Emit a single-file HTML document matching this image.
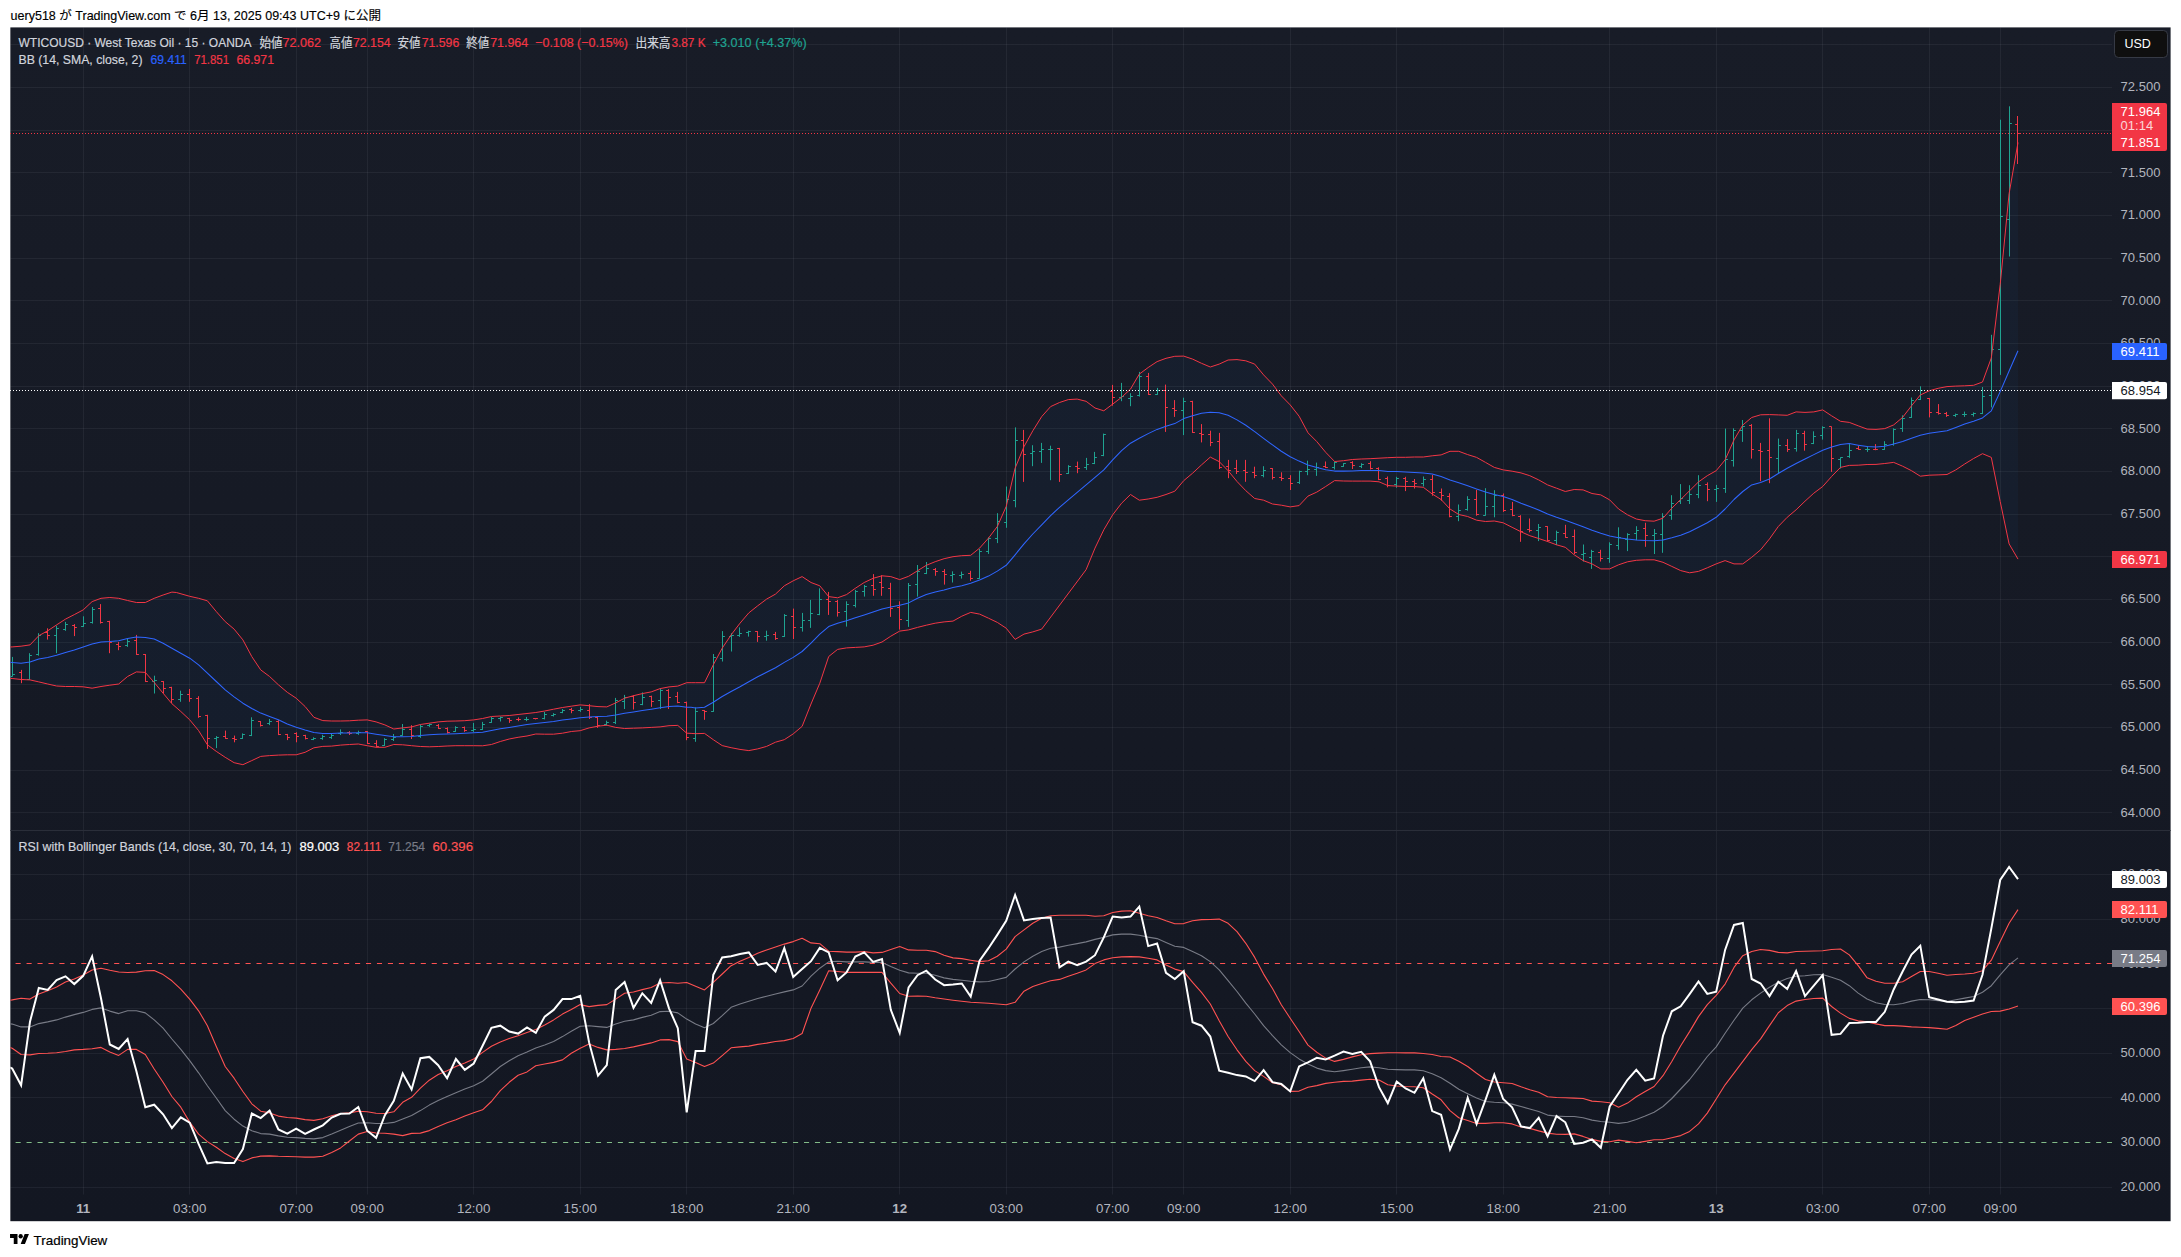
<!DOCTYPE html>
<html lang="ja"><head><meta charset="utf-8"><title>WTICOUSD chart</title>
<style>html,body{margin:0;padding:0;background:#fff}body{width:2181px;height:1257px;position:relative;overflow:hidden}</style></head>
<body>
<svg width="2181" height="1257" viewBox="0 0 2181 1257" style="position:absolute;left:0;top:0" font-family="Liberation Sans, Noto Sans CJK JP, sans-serif">
<defs><linearGradient id="bg" x1="0" y1="0" x2="0" y2="1"><stop offset="0" stop-color="#181c27"/><stop offset="1" stop-color="#131722"/></linearGradient>
<clipPath id="pm"><rect x="10.35" y="27.4" width="2101.65" height="802.9"/></clipPath>
<clipPath id="pr"><rect x="10.35" y="830.3" width="2101.65" height="361.70000000000005"/></clipPath></defs>
<rect x="10.35" y="27.4" width="2160.25" height="1193.8" fill="url(#bg)"/>
<path d="M83.5 27.4V1194.5 M189.5 27.4V1194.5 M296.5 27.4V1194.5 M367.5 27.4V1194.5 M473.5 27.4V1194.5 M580.5 27.4V1194.5 M686.5 27.4V1194.5 M793.5 27.4V1194.5 M899.5 27.4V1194.5 M1006.5 27.4V1194.5 M1112.5 27.4V1194.5 M1183.5 27.4V1194.5 M1290.5 27.4V1194.5 M1396.5 27.4V1194.5 M1503.5 27.4V1194.5 M1609.5 27.4V1194.5 M1716.5 27.4V1194.5 M1822.5 27.4V1194.5 M1929.5 27.4V1194.5 M2000.5 27.4V1194.5 M10.35 44.5H2112 M10.35 87.5H2112 M10.35 130.5H2112 M10.35 172.5H2112 M10.35 215.5H2112 M10.35 258.5H2112 M10.35 300.5H2112 M10.35 343.5H2112 M10.35 386.5H2112 M10.35 428.5H2112 M10.35 471.5H2112 M10.35 514.5H2112 M10.35 556.5H2112 M10.35 599.5H2112 M10.35 642.5H2112 M10.35 684.5H2112 M10.35 727.5H2112 M10.35 770.5H2112 M10.35 812.5H2112 M10.35 874.5H2112 M10.35 919.5H2112 M10.35 1008.5H2112 M10.35 1053.5H2112 M10.35 1097.5H2112 M10.35 1187.5H2112" fill="none" stroke="#f0f3fa" stroke-opacity="0.06" stroke-width="1"/>
<path d="M10.35 830.5H2170.6" stroke="#2a2e39" stroke-width="1" fill="none"/>
<g clip-path="url(#pm)">
<polygon points="10.0,647.0 12.2,646.9 21.1,646.2 30.0,644.9 38.8,635.7 47.7,630.8 56.6,624.9 65.5,619.1 74.3,614.6 83.2,609.9 92.1,601.6 101.0,598.3 109.8,597.5 118.7,598.3 127.6,600.5 136.4,602.5 145.3,602.5 154.2,598.3 163.1,595.0 171.9,592.1 176.4,592.5 189.7,596.3 198.6,598.3 207.4,600.8 216.3,611.6 225.2,621.6 234.1,629.1 242.9,639.9 251.8,656.6 260.7,669.9 269.6,676.5 278.4,684.8 287.3,692.3 296.2,698.2 305.1,706.5 313.9,717.3 322.8,720.6 331.7,721.0 340.6,721.0 349.4,720.8 358.3,720.2 367.2,719.9 376.1,721.9 384.9,724.9 393.8,729.0 402.7,727.9 411.6,726.9 420.4,724.5 429.3,723.2 438.2,721.9 447.1,721.2 455.9,721.0 464.8,720.7 473.7,719.9 482.6,718.5 491.4,716.5 500.3,716.0 509.2,715.5 518.1,714.5 527.0,713.5 535.8,712.5 544.7,711.0 553.6,709.2 562.5,707.5 571.3,706.2 580.2,704.9 589.1,705.7 598.0,706.6 606.8,706.9 615.7,702.9 624.6,698.2 633.5,695.7 642.3,693.6 651.2,691.9 660.1,688.6 669.0,686.9 677.8,686.1 686.7,682.7 691.1,682.7 695.6,682.7 704.5,682.7 713.3,664.8 722.2,648.2 731.1,634.9 740.0,623.2 748.8,612.9 757.7,605.8 766.6,599.1 775.5,594.1 784.3,585.8 793.2,580.8 802.1,576.6 811.0,582.5 819.8,585.8 828.7,596.6 837.6,597.8 846.5,594.6 855.3,588.3 864.2,582.5 873.1,578.3 882.0,575.8 890.8,576.6 899.7,579.6 908.6,576.3 917.5,570.8 926.3,565.3 935.2,561.7 944.1,558.7 953.0,556.7 961.8,555.7 970.7,555.3 979.6,548.1 988.5,538.1 997.3,526.5 1006.2,506.5 1015.1,468.2 1024.0,446.6 1032.8,430.8 1041.7,416.6 1050.6,406.6 1059.5,402.5 1068.3,399.6 1077.2,399.1 1086.1,401.3 1095.0,408.0 1103.8,410.8 1112.7,404.1 1121.6,397.3 1130.5,389.1 1139.3,374.1 1148.2,367.5 1157.1,361.6 1166.0,358.3 1174.8,356.3 1183.7,356.1 1192.6,359.1 1201.5,363.3 1210.3,367.0 1219.2,364.1 1228.1,360.0 1237.0,359.6 1245.8,360.8 1254.7,364.1 1263.6,374.9 1272.5,384.1 1281.3,395.8 1290.2,404.9 1299.1,416.2 1308.0,432.8 1316.8,441.6 1325.7,452.3 1334.6,461.5 1343.5,460.7 1352.3,459.5 1361.2,459.0 1370.1,458.7 1379.0,458.2 1387.8,457.7 1396.7,457.3 1405.6,457.3 1414.5,457.0 1423.3,457.0 1432.2,455.8 1441.1,454.9 1450.0,451.3 1458.8,451.3 1467.7,454.6 1476.6,457.4 1485.5,462.4 1494.3,467.4 1503.2,469.9 1512.1,471.2 1521.0,472.9 1529.8,475.7 1538.7,479.9 1547.6,484.9 1556.5,488.2 1565.3,491.5 1574.2,489.5 1583.1,489.9 1592.0,493.5 1600.8,494.9 1609.7,499.9 1618.6,509.0 1627.5,514.8 1636.3,519.0 1645.2,520.7 1654.1,521.2 1663.0,518.2 1671.8,508.2 1680.7,499.5 1689.6,490.7 1698.5,481.9 1707.3,475.7 1716.2,470.7 1725.1,459.9 1734.0,439.9 1742.8,425.0 1751.7,417.5 1760.6,414.8 1769.5,414.6 1778.3,414.9 1787.2,415.3 1796.1,411.9 1805.0,412.4 1813.8,411.9 1822.7,409.9 1831.6,415.8 1840.5,421.3 1849.3,422.4 1858.2,425.8 1867.1,429.1 1876.0,429.4 1884.8,428.6 1893.7,424.9 1902.6,417.4 1911.5,405.8 1920.3,395.0 1929.2,390.8 1938.1,388.3 1947.0,386.6 1955.8,386.1 1964.7,385.8 1973.6,385.3 1982.5,382.0 1991.3,358.0 2000.2,284.5 2009.1,193.6 2018.0,142.5 2018.0,559.1 2009.1,543.9 2000.2,501.5 1991.3,457.4 1982.5,453.7 1973.6,458.5 1964.7,464.0 1955.8,469.9 1947.0,474.5 1938.1,474.9 1929.2,475.2 1920.3,476.2 1911.5,470.7 1902.6,466.2 1893.7,462.4 1884.8,463.5 1876.0,464.4 1867.1,464.5 1858.2,465.2 1849.3,465.4 1840.5,467.4 1831.6,476.5 1822.7,486.5 1813.8,493.2 1805.0,501.2 1796.1,509.8 1787.2,517.3 1778.3,526.5 1769.5,538.9 1760.6,549.8 1751.7,557.3 1742.8,563.9 1734.0,563.9 1725.1,560.6 1716.2,563.9 1707.3,567.8 1698.5,571.4 1689.6,572.8 1680.7,570.6 1671.8,566.4 1663.0,562.3 1654.1,559.8 1645.2,559.8 1636.3,560.3 1627.5,561.8 1618.6,564.8 1609.7,568.9 1600.8,568.9 1592.0,563.9 1583.1,560.6 1574.2,554.8 1565.3,547.3 1556.5,544.8 1547.6,541.5 1538.7,538.5 1529.8,535.7 1521.0,531.8 1512.1,527.3 1503.2,522.8 1494.3,521.0 1485.5,521.5 1476.6,520.2 1467.7,516.5 1458.8,514.5 1450.0,509.0 1441.1,499.5 1432.2,494.0 1423.3,487.3 1414.5,486.5 1405.6,486.5 1396.7,486.1 1387.8,485.6 1379.0,481.8 1370.1,481.1 1361.2,481.1 1352.3,481.1 1343.5,481.0 1334.6,480.6 1325.7,486.5 1316.8,492.1 1308.0,496.1 1299.1,505.6 1290.2,506.9 1281.3,505.2 1272.5,504.0 1263.6,500.2 1254.7,498.5 1245.8,490.7 1237.0,481.5 1228.1,470.7 1219.2,461.6 1210.3,457.1 1201.5,464.9 1192.6,473.2 1183.7,480.7 1174.8,491.2 1166.0,494.5 1157.1,497.3 1148.2,499.0 1139.3,500.2 1130.5,494.5 1121.6,503.2 1112.7,514.8 1103.8,529.8 1095.0,548.1 1086.1,569.7 1041.7,629.1 1032.8,631.9 1024.0,634.1 1015.1,639.4 1006.2,628.2 997.3,622.4 988.5,618.2 979.6,614.1 970.7,612.4 961.8,616.2 953.0,621.1 944.1,621.9 935.2,623.2 926.3,625.2 917.5,627.4 908.6,629.9 899.7,631.1 890.8,636.2 882.0,642.0 873.1,645.2 864.2,646.9 855.3,647.4 846.5,647.9 837.6,649.4 828.7,656.5 819.8,683.2 811.0,704.0 802.1,726.4 793.2,733.9 784.3,739.7 775.5,742.2 766.6,746.4 757.7,748.9 748.8,750.6 740.0,749.4 731.1,747.7 722.2,745.6 713.3,739.7 704.5,733.4 695.6,733.7 691.1,733.4 686.7,733.2 677.8,725.4 669.0,725.7 660.1,726.9 651.2,727.4 642.3,727.9 633.5,728.2 624.6,728.5 615.7,727.4 606.8,725.2 598.0,726.2 589.1,727.9 580.2,730.7 571.3,731.5 562.5,733.2 553.6,734.2 544.7,734.2 535.8,734.0 527.0,736.0 518.1,737.3 509.2,739.0 500.3,741.5 491.4,744.5 482.6,745.8 473.7,745.7 464.8,745.7 455.9,745.7 447.1,746.0 438.2,746.5 429.3,746.8 420.4,746.5 411.6,745.7 402.7,744.8 393.8,744.5 384.9,747.3 376.1,747.3 367.2,745.7 358.3,744.0 349.4,744.5 340.6,745.1 331.7,746.1 322.8,746.4 313.9,747.8 305.1,752.3 296.2,754.8 287.3,754.8 278.4,755.1 269.6,755.6 260.7,756.4 251.8,760.6 242.9,764.7 234.1,762.7 225.2,757.3 216.3,751.4 207.4,744.8 198.6,730.6 189.7,719.8 180.8,711.5 171.9,703.7 163.1,693.2 154.2,682.4 145.3,672.4 136.4,671.9 127.6,676.5 118.7,684.0 109.8,685.2 101.0,686.5 92.1,688.2 83.2,686.8 74.3,686.5 65.5,686.5 56.6,686.0 47.7,684.0 38.8,681.9 30.0,679.9 21.1,679.5 12.2,678.5 10.0,678.4" fill="#2196f3" fill-opacity="0.045"/>
<path d="M12.5 656.9V676.5M10.1 676.5H12.5M12.5 674.5H14.9M29.5 653.2V679.9M27.1 679.5H29.5M29.5 655.5H31.9M38.5 633.2V655.7M36.1 654.5H38.5M38.5 635.5H40.9M56.5 625.8V653.2M54.1 635.5H56.5M56.5 628.5H58.9M65.5 621.9V630.8M63.1 629.5H65.5M65.5 624.5H67.9M83.5 616.3V626.9M81.1 626.5H83.5M83.5 623.5H85.9M92.5 607.0V623.6M90.1 622.5H92.5M92.5 609.5H94.9M127.5 638.6V646.9M125.1 645.5H127.5M127.5 641.5H129.9M154.5 675.7V693.5M152.1 681.5H154.5M154.5 680.5H156.9M180.5 690.7V701.8M178.1 699.5H180.5M180.5 694.5H182.9M216.5 736.1V748.1M214.1 738.5H216.5M216.5 737.5H218.9M242.5 733.4V738.9M240.1 738.5H242.5M242.5 734.5H244.9M251.5 717.3V736.1M249.1 735.5H251.5M251.5 720.5H253.9M269.5 719.0V725.1M267.1 723.5H269.5M269.5 721.5H271.9M313.5 737.3V740.1M311.1 739.5H313.5M313.5 738.5H315.9M322.5 734.8V739.8M320.1 738.5H322.5M322.5 736.5H324.9M331.5 733.9V738.9M329.1 737.5H331.5M331.5 735.5H333.9M340.5 729.4V735.0M338.1 733.5H340.5M340.5 732.5H342.9M358.5 730.7V734.8M356.1 733.5H358.5M358.5 732.5H360.9M384.5 738.2V746.0M382.1 745.5H384.5M384.5 739.5H386.9M393.5 734.0V741.0M391.1 739.5H393.5M393.5 737.5H395.9M402.5 724.0V735.7M400.1 735.5H402.5M402.5 729.5H404.9M420.5 724.5V737.8M418.1 736.5H420.5M420.5 726.5H422.9M429.5 723.5V726.9M427.1 725.5H429.5M429.5 724.5H431.9M455.5 726.2V731.9M453.1 731.5H455.5M455.5 727.5H457.9M473.5 722.9V731.9M471.1 730.5H473.5M473.5 729.5H475.9M482.5 721.9V729.9M480.1 729.5H482.5M482.5 724.5H484.9M491.5 716.9V722.9M489.1 722.5H491.5M491.5 718.5H493.9M500.5 716.5V721.5M498.1 718.5H500.5M500.5 717.5H502.9M526.5 716.9V721.2M524.1 719.5H526.5M526.5 719.5H528.9M544.5 711.9V719.4M542.1 718.5H544.5M544.5 714.5H546.9M553.5 713.2V716.5M551.1 715.5H553.5M553.5 714.5H555.9M562.5 709.0V713.2M560.1 712.5H562.5M562.5 710.5H564.9M580.5 706.9V711.9M578.1 710.5H580.5M580.5 709.5H582.9M606.5 720.7V725.7M604.1 724.5H606.5M606.5 722.5H608.9M615.5 697.9V724.0M613.1 722.5H615.5M615.5 700.5H617.9M624.5 694.9V709.0M622.1 701.5H624.5M624.5 697.5H626.9M642.5 692.4V705.2M640.1 704.5H642.5M642.5 697.5H644.9M660.5 688.6V709.0M658.1 700.5H660.5M660.5 690.5H662.9M695.5 707.4V741.8M693.1 738.5H695.5M695.5 711.5H697.9M713.5 654.0V711.8M711.1 711.5H713.5M713.5 657.5H715.9M722.5 631.1V661.5M720.1 658.5H722.5M722.5 636.5H724.9M731.5 633.2V651.5M729.1 636.5H731.5M731.5 635.5H733.9M739.5 627.4V636.9M737.1 635.5H739.5M739.5 633.5H741.9M748.5 630.7V636.6M746.1 632.5H748.5M748.5 631.5H750.9M766.5 630.7V640.7M764.1 636.5H766.5M766.5 635.5H768.9M784.5 614.1V636.9M782.1 636.5H784.5M784.5 615.5H786.9M802.5 612.9V631.6M800.1 627.5H802.5M802.5 620.5H804.9M810.5 599.9V627.9M808.1 620.5H810.5M810.5 613.5H812.9M819.5 588.3V615.2M817.1 614.5H819.5M819.5 599.5H821.9M846.5 601.3V626.6M844.1 611.5H846.5M846.5 604.5H848.9M855.5 589.9V607.4M853.1 605.5H855.5M855.5 591.5H857.9M864.5 585.0V596.6M862.1 591.5H864.5M864.5 586.5H866.9M908.5 583.0V626.9M906.1 620.5H908.5M908.5 585.5H910.9M917.5 565.0V596.6M915.1 584.5H917.5M917.5 571.5H919.9M926.5 562.0V574.1M924.1 573.5H926.5M926.5 568.5H928.9M952.5 571.3V582.5M950.1 575.5H952.5M952.5 574.5H954.9M961.5 571.6V578.6M959.1 575.5H961.5M961.5 574.5H963.9M979.5 548.9V578.9M977.1 578.5H979.5M979.5 551.5H981.9M988.5 537.3V553.9M986.1 551.5H988.5M988.5 538.5H990.9M997.5 513.2V543.1M995.1 538.5H997.5M997.5 521.5H999.9M1006.5 486.5V527.8M1004.1 522.5H1006.5M1006.5 499.5H1008.9M1015.5 427.4V507.3M1013.1 500.5H1015.5M1015.5 440.5H1017.9M1032.5 445.2V466.2M1030.1 453.5H1032.5M1032.5 451.5H1034.9M1041.5 442.9V462.9M1039.1 451.5H1041.5M1041.5 449.5H1043.9M1050.5 445.7V480.2M1048.1 449.5H1050.5M1050.5 449.5H1052.9M1068.5 465.2V474.0M1066.1 473.5H1068.5M1068.5 466.5H1070.9M1086.5 457.9V469.9M1084.1 467.5H1086.5M1086.5 464.5H1088.9M1094.5 451.9V464.1M1092.1 463.5H1094.5M1094.5 457.5H1096.9M1103.5 433.6V456.2M1101.1 455.5H1103.5M1103.5 434.5H1105.9M1183.5 397.7V435.1M1181.1 410.5H1183.5M1183.5 401.5H1185.9M1263.5 466.2V477.3M1261.1 475.5H1263.5M1263.5 470.5H1265.9M1299.5 470.7V484.0M1297.1 482.5H1299.5M1299.5 471.5H1301.9M1307.5 460.7V475.2M1305.1 471.5H1307.5M1307.5 469.5H1309.9M1316.5 462.6V475.9M1314.1 469.5H1316.5M1316.5 467.5H1318.9M1121.5 382.9V401.2M1119.1 397.5H1121.5M1121.5 396.5H1123.9M1130.5 393.2V406.2M1128.1 398.5H1130.5M1130.5 396.5H1132.9M1139.5 371.9V396.6M1137.1 395.5H1139.5M1139.5 376.5H1141.9M1157.5 387.9V394.9M1155.1 394.5H1157.5M1157.5 390.5H1159.9M1334.5 461.5V469.5M1332.1 467.5H1334.5M1334.5 462.5H1336.9M1343.5 463.2V466.8M1341.1 466.5H1343.5M1343.5 463.5H1345.9M1361.5 463.2V468.1M1359.1 466.5H1361.5M1361.5 464.5H1363.9M1396.5 476.8V487.8M1394.1 484.5H1396.5M1396.5 478.5H1398.9M1423.5 476.5V486.5M1421.1 483.5H1423.5M1423.5 479.5H1425.9M1458.5 504.5V521.2M1456.1 516.5H1458.5M1458.5 510.5H1460.9M1467.5 496.2V510.7M1465.1 509.5H1467.5M1467.5 499.5H1469.9M1485.5 488.2V515.7M1483.1 515.5H1485.5M1485.5 506.5H1487.9M1494.5 490.2V517.3M1492.1 506.5H1494.5M1494.5 495.5H1496.9M1538.5 524.0V541.1M1536.1 530.5H1538.5M1538.5 527.5H1540.9M1556.5 530.7V545.1M1554.1 540.5H1556.5M1556.5 532.5H1558.9M1583.5 544.5V561.5M1581.1 554.5H1583.5M1583.5 553.5H1585.9M1591.5 549.8V568.9M1589.1 557.5H1591.5M1591.5 551.5H1593.9M1609.5 542.3V562.8M1607.1 558.5H1609.5M1609.5 544.5H1611.9M1618.5 527.3V549.8M1616.1 545.5H1618.5M1618.5 537.5H1620.9M1627.5 533.2V551.1M1625.1 539.5H1627.5M1627.5 534.5H1629.9M1636.5 526.2V540.1M1634.1 533.5H1636.5M1636.5 530.5H1638.9M1654.5 529.0V554.0M1652.1 535.5H1654.5M1654.5 533.5H1656.9M1662.5 513.2V552.8M1660.1 534.5H1662.5M1662.5 516.5H1664.9M1671.5 495.2V519.8M1669.1 515.5H1671.5M1671.5 503.5H1673.9M1680.5 484.1V504.0M1678.1 501.5H1680.5M1680.5 498.5H1682.9M1689.5 485.2V504.0M1687.1 500.5H1689.5M1689.5 494.5H1691.9M1698.5 475.2V498.2M1696.1 494.5H1698.5M1698.5 485.5H1700.9M1716.5 484.9V501.9M1714.1 489.5H1716.5M1716.5 488.5H1718.9M1725.5 428.6V492.9M1723.1 488.5H1725.5M1725.5 459.5H1727.9M1733.5 428.3V466.6M1731.1 460.5H1733.5M1733.5 430.5H1735.9M1742.5 420.0V441.9M1740.1 430.5H1742.5M1742.5 426.5H1744.9M1778.5 438.6V473.2M1776.1 458.5H1778.5M1778.5 445.5H1780.9M1796.5 429.9V451.6M1794.1 448.5H1796.5M1796.5 433.5H1798.9M1813.5 431.3V444.1M1811.1 443.5H1813.5M1813.5 436.5H1815.9M1822.5 426.3V439.6M1820.1 435.5H1822.5M1822.5 427.5H1824.9M1840.5 457.4V468.5M1838.1 459.5H1840.5M1840.5 457.5H1842.9M1849.5 444.1V457.9M1847.1 456.5H1849.5M1849.5 450.5H1851.9M1867.5 446.2V451.9M1865.1 449.5H1867.5M1867.5 449.5H1869.9M1884.5 441.2V449.9M1882.1 449.5H1884.5M1884.5 444.5H1886.9M1893.5 428.3V445.7M1891.1 444.5H1893.5M1893.5 429.5H1895.9M1902.5 415.3V431.9M1900.1 428.5H1902.5M1902.5 418.5H1904.9M1911.5 397.5V417.9M1909.1 417.5H1911.5M1911.5 400.5H1913.9M1920.5 386.3V400.0M1918.1 399.5H1920.5M1920.5 390.5H1922.9M1955.5 413.6V416.9M1953.1 415.5H1955.5M1955.5 414.5H1957.9M1964.5 411.6V416.9M1962.1 414.5H1964.5M1964.5 414.5H1966.9M1973.5 412.4V416.6M1971.1 414.5H1973.5M1973.5 413.5H1975.9M1982.5 387.0V414.1M1980.1 413.5H1982.5M1982.5 396.5H1984.9M1991.5 334.8V407.4M1989.1 395.5H1991.5M1991.5 349.5H1993.9M2000.5 119.7V374.9M1998.1 349.5H2000.5M2000.5 216.5H2002.9M2009.5 106.3V256.5M2007.1 219.5H2009.5M2009.5 123.5H2011.9" stroke="#1fa391" stroke-width="1" fill="none"/>
<path d="M21.5 669.9V683.2M19.1 672.5H21.5M21.5 679.5H23.9M47.5 628.3V639.6M45.1 632.5H47.5M47.5 635.5H49.9M74.5 624.1V636.1M72.1 625.5H74.5M74.5 627.5H76.9M100.5 604.1V623.6M98.1 608.5H100.5M100.5 622.5H102.9M109.5 620.8V653.2M107.1 621.5H109.5M109.5 642.5H111.9M118.5 641.9V650.2M116.1 644.5H118.5M118.5 646.5H120.9M136.5 634.9V654.9M134.1 640.5H136.5M136.5 654.5H138.9M145.5 654.1V681.9M143.1 654.5H145.5M145.5 681.5H147.9M163.5 681.2V693.5M161.1 681.5H163.5M163.5 688.5H165.9M171.5 686.8V703.2M169.1 687.5H171.5M171.5 699.5H173.9M189.5 689.0V701.8M187.1 694.5H189.5M189.5 698.5H191.9M198.5 696.2V717.8M196.1 698.5H198.5M198.5 716.5H200.9M207.5 714.8V748.9M205.1 715.5H207.5M207.5 738.5H209.9M225.5 730.6V738.9M223.1 736.5H225.5M225.5 738.5H227.9M234.5 735.6V742.3M232.1 738.5H234.5M234.5 739.5H236.9M260.5 721.1V726.5M258.1 721.5H260.5M260.5 725.5H262.9M278.5 720.1V735.1M276.1 721.5H278.5M278.5 734.5H280.9M287.5 733.9V740.1M285.1 734.5H287.5M287.5 737.5H289.9M296.5 732.3V742.3M294.1 733.5H296.5M296.5 736.5H298.9M305.5 734.8V739.4M303.1 735.5H305.5M305.5 738.5H307.9M349.5 731.2V735.0M347.1 732.5H349.5M349.5 733.5H351.9M367.5 731.2V744.0M365.1 731.5H367.5M367.5 743.5H369.9M376.5 740.2V747.3M374.1 743.5H376.5M376.5 746.5H378.9M411.5 725.2V739.0M409.1 729.5H411.5M411.5 735.5H413.9M438.5 724.0V729.0M436.1 725.5H438.5M438.5 728.5H440.9M447.5 727.4V733.5M445.1 728.5H447.5M447.5 732.5H449.9M464.5 726.5V731.9M462.1 727.5H464.5M464.5 730.5H466.9M509.5 717.9V722.9M507.1 718.5H509.5M509.5 720.5H511.9M518.5 717.4V721.2M516.1 719.5H518.5M518.5 719.5H520.9M535.5 718.2V719.4M533.1 718.5H535.5M535.5 718.5H537.9M571.5 707.9V713.2M569.1 709.5H571.5M571.5 710.5H573.9M589.5 704.1V719.0M587.1 710.5H589.5M589.5 717.5H591.9M597.5 716.5V727.9M595.1 717.5H597.5M597.5 725.5H599.9M633.5 695.2V709.5M631.1 696.5H633.5M633.5 702.5H635.9M651.5 695.7V706.9M649.1 696.5H651.5M651.5 701.5H653.9M668.5 689.1V709.0M666.1 690.5H668.5M668.5 697.5H670.9M677.5 691.9V703.2M675.1 696.5H677.5M677.5 702.5H679.9M686.5 701.6V740.2M684.1 702.5H686.5M686.5 737.5H688.9M704.5 710.1V719.8M702.1 710.5H704.5M704.5 711.5H706.9M757.5 631.1V641.9M755.1 631.5H757.5M757.5 636.5H759.9M775.5 631.9V639.9M773.1 634.5H775.5M775.5 638.5H777.9M793.5 608.6V639.0M791.1 616.5H793.5M793.5 627.5H795.9M828.5 591.9V614.9M826.1 599.5H828.5M828.5 601.5H830.9M837.5 599.9V616.6M835.1 601.5H837.5M837.5 612.5H839.9M873.5 574.1V595.8M871.1 585.5H873.5M873.5 589.5H875.9M881.5 575.3V595.8M879.1 582.5H881.5M881.5 587.5H883.9M890.5 582.8V616.9M888.1 588.5H890.5M890.5 608.5H892.9M899.5 601.3V629.6M897.1 607.5H899.5M899.5 619.5H901.9M935.5 568.0V575.8M933.1 569.5H935.5M935.5 571.5H937.9M944.5 569.1V584.6M942.1 571.5H944.5M944.5 574.5H946.9M970.5 570.8V580.8M968.1 573.5H970.5M970.5 578.5H972.9M1023.5 429.9V481.9M1021.1 440.5H1023.5M1023.5 454.5H1025.9M1059.5 447.9V481.9M1057.1 448.5H1059.5M1059.5 474.5H1061.9M1077.5 461.6V473.2M1075.1 466.5H1077.5M1077.5 468.5H1079.9M1165.5 384.6V431.9M1163.1 390.5H1165.5M1165.5 407.5H1167.9M1174.5 400.1V416.9M1172.1 408.5H1174.5M1174.5 410.5H1176.9M1192.5 400.8V432.9M1190.1 401.5H1192.5M1192.5 432.5H1194.9M1201.5 424.1V442.4M1199.1 433.5H1201.5M1201.5 434.5H1203.9M1210.5 430.7V446.2M1208.1 434.5H1210.5M1210.5 442.5H1212.9M1219.5 432.9V469.0M1217.1 441.5H1219.5M1219.5 467.5H1221.9M1228.5 459.9V478.2M1226.1 466.5H1228.5M1228.5 470.5H1230.9M1236.5 459.9V474.0M1234.1 468.5H1236.5M1236.5 471.5H1238.9M1245.5 459.9V481.8M1243.1 470.5H1245.5M1245.5 472.5H1247.9M1254.5 466.7V478.2M1252.1 472.5H1254.5M1254.5 475.5H1256.9M1272.5 468.2V479.5M1270.1 468.5H1272.5M1272.5 477.5H1274.9M1281.5 472.3V480.9M1279.1 477.5H1281.5M1281.5 478.5H1283.9M1290.5 475.2V490.0M1288.1 478.5H1290.5M1290.5 483.5H1292.9M1112.5 384.9V405.7M1110.1 391.5H1112.5M1112.5 397.5H1114.9M1148.5 372.9V394.9M1146.1 376.5H1148.5M1148.5 394.5H1150.9M1325.5 461.5V468.1M1323.1 466.5H1325.5M1325.5 467.5H1327.9M1352.5 461.2V469.0M1350.1 462.5H1352.5M1352.5 465.5H1354.9M1370.5 461.2V469.5M1368.1 463.5H1370.5M1370.5 468.5H1372.9M1378.5 467.3V480.1M1376.1 468.5H1378.5M1378.5 479.5H1380.9M1387.5 476.5V487.3M1385.1 478.5H1387.5M1387.5 485.5H1389.9M1405.5 476.8V491.1M1403.1 478.5H1405.5M1405.5 481.5H1407.9M1414.5 479.0V488.5M1412.1 481.5H1414.5M1414.5 483.5H1416.9M1432.5 474.9V495.7M1430.1 479.5H1432.5M1432.5 492.5H1434.9M1441.5 488.5V500.7M1439.1 492.5H1441.5M1441.5 495.5H1443.9M1449.5 493.2V517.3M1447.1 496.5H1449.5M1449.5 516.5H1451.9M1476.5 489.9V515.7M1474.1 499.5H1476.5M1476.5 514.5H1478.9M1503.5 493.5V511.9M1501.1 495.5H1503.5M1503.5 510.5H1505.9M1512.5 501.9V516.2M1510.1 509.5H1512.5M1512.5 515.5H1514.9M1520.5 515.2V541.8M1518.1 516.5H1520.5M1520.5 531.5H1522.9M1529.5 518.5V532.3M1527.1 529.5H1529.5M1529.5 530.5H1531.9M1547.5 526.2V541.8M1545.1 526.5H1547.5M1547.5 540.5H1549.9M1565.5 524.8V537.8M1563.1 533.5H1565.5M1565.5 537.5H1567.9M1574.5 529.5V554.0M1572.1 536.5H1574.5M1574.5 552.5H1576.9M1600.5 549.8V561.5M1598.1 552.5H1600.5M1600.5 558.5H1602.9M1645.5 522.8V546.8M1643.1 528.5H1645.5M1645.5 535.5H1647.9M1707.5 482.4V501.2M1705.1 484.5H1707.5M1707.5 489.5H1709.9M1751.5 424.1V458.6M1749.1 425.5H1751.5M1751.5 449.5H1753.9M1760.5 442.9V481.2M1758.1 450.5H1760.5M1760.5 451.5H1762.9M1769.5 418.3V483.2M1767.1 450.5H1769.5M1769.5 457.5H1771.9M1787.5 439.1V451.9M1785.1 445.5H1787.5M1787.5 449.5H1789.9M1804.5 430.8V450.7M1802.1 433.5H1804.5M1804.5 444.5H1806.9M1831.5 426.6V471.9M1829.1 426.5H1831.5M1831.5 458.5H1833.9M1858.5 445.7V449.9M1856.1 448.5H1858.5M1858.5 449.5H1860.9M1875.5 444.1V450.2M1873.1 449.5H1875.5M1875.5 449.5H1877.9M1929.5 398.0V417.4M1927.1 398.5H1929.5M1929.5 412.5H1931.9M1938.5 404.1V414.6M1936.1 412.5H1938.5M1938.5 413.5H1940.9M1946.5 411.9V416.9M1944.1 413.5H1946.5M1946.5 415.5H1948.9M2017.5 116.0V164.0M2015.1 124.5H2017.5M2017.5 133.5H2019.9" stroke="#f23645" stroke-width="1" fill="none"/>
<path d="M10.0 662.3 L12.2 662.4 L21.1 663.2 L30.0 661.9 L38.8 659.0 L47.7 657.4 L56.6 655.2 L65.5 652.4 L74.3 649.9 L83.2 646.9 L92.1 644.1 L101.0 641.9 L109.8 641.6 L118.7 640.7 L127.6 638.6 L136.4 637.1 L145.3 637.4 L154.2 639.1 L163.1 643.2 L171.9 648.2 L180.8 653.2 L189.7 658.2 L198.6 664.9 L207.4 673.2 L216.3 681.5 L225.2 689.8 L234.1 696.8 L242.9 703.2 L251.8 708.5 L260.7 713.1 L269.6 716.5 L278.4 719.8 L287.3 724.0 L296.2 727.3 L305.1 730.1 L313.9 732.6 L322.8 733.4 L331.7 733.4 L340.6 733.1 L349.4 733.0 L358.3 732.8 L367.2 732.8 L376.1 734.2 L384.9 735.5 L393.8 736.8 L402.7 736.7 L411.6 736.5 L420.4 735.5 L429.3 734.8 L438.2 734.3 L447.1 734.0 L455.9 733.7 L464.8 733.3 L473.7 732.8 L482.6 732.2 L491.4 730.4 L500.3 728.7 L509.2 727.4 L518.1 725.9 L527.0 724.5 L535.8 723.5 L544.7 722.5 L553.6 721.4 L562.5 720.0 L571.3 718.9 L580.2 717.7 L589.1 717.0 L598.0 716.5 L606.8 716.2 L615.7 714.9 L624.6 713.2 L633.5 711.9 L642.3 710.5 L651.2 709.2 L660.1 707.7 L669.0 706.4 L677.8 706.1 L686.7 707.2 L691.1 707.3 L695.6 707.9 L704.5 707.3 L713.3 702.3 L722.2 696.5 L731.1 691.5 L740.0 686.8 L748.8 681.8 L757.7 676.8 L766.6 672.3 L775.5 667.8 L784.3 662.4 L793.2 657.4 L802.1 651.5 L811.0 643.2 L819.8 634.1 L828.7 626.6 L837.6 623.2 L846.5 620.7 L855.3 617.7 L864.2 614.9 L873.1 611.9 L882.0 609.1 L890.8 607.1 L899.7 605.3 L908.6 602.9 L917.5 598.3 L926.3 594.6 L935.2 591.9 L944.1 589.9 L953.0 587.5 L961.8 585.8 L970.7 583.2 L979.6 580.0 L988.5 576.1 L997.3 571.1 L1006.2 565.3 L1015.1 554.8 L1024.0 543.9 L1032.8 534.0 L1041.7 524.8 L1050.6 515.7 L1059.5 507.3 L1068.3 499.8 L1077.2 492.4 L1086.1 484.9 L1095.0 477.4 L1103.8 469.9 L1112.7 459.9 L1121.6 450.7 L1130.5 443.2 L1139.3 438.3 L1148.2 433.6 L1157.1 429.4 L1166.0 426.3 L1174.8 423.6 L1183.7 418.6 L1192.6 415.8 L1201.5 413.3 L1210.3 412.3 L1219.2 412.8 L1228.1 415.3 L1237.0 419.9 L1245.8 425.3 L1254.7 431.6 L1263.6 438.3 L1272.5 444.9 L1281.3 451.2 L1290.2 456.7 L1299.1 461.1 L1308.0 465.0 L1316.8 467.6 L1325.7 469.8 L1334.6 471.1 L1343.5 471.1 L1352.3 471.0 L1361.2 470.6 L1370.1 470.5 L1379.0 470.6 L1387.8 471.5 L1396.7 471.6 L1405.6 472.0 L1414.5 472.5 L1423.3 472.9 L1432.2 474.1 L1441.1 476.6 L1450.0 479.9 L1458.8 482.7 L1467.7 485.7 L1476.6 489.0 L1485.5 492.0 L1494.3 494.5 L1503.2 496.5 L1512.1 499.4 L1521.0 503.2 L1529.8 506.5 L1538.7 509.9 L1547.6 514.0 L1556.5 517.3 L1565.3 520.3 L1574.2 523.5 L1583.1 526.8 L1592.0 530.2 L1600.8 533.2 L1609.7 536.0 L1618.6 537.8 L1627.5 539.1 L1636.3 540.1 L1645.2 540.6 L1654.1 540.8 L1663.0 540.1 L1671.8 537.8 L1680.7 535.2 L1689.6 531.8 L1698.5 527.3 L1707.3 522.8 L1716.2 517.3 L1725.1 509.0 L1734.0 499.5 L1742.8 491.5 L1751.7 484.9 L1760.6 482.4 L1769.5 479.0 L1778.3 473.5 L1787.2 468.2 L1796.1 463.5 L1805.0 459.0 L1813.8 454.6 L1822.7 450.2 L1831.6 446.9 L1840.5 444.4 L1849.3 443.6 L1858.2 445.2 L1867.1 446.6 L1876.0 446.9 L1884.8 446.2 L1893.7 444.1 L1902.6 441.6 L1911.5 438.2 L1920.3 435.2 L1929.2 433.2 L1938.1 431.9 L1947.0 430.8 L1955.8 427.4 L1964.7 424.1 L1973.6 421.3 L1982.5 417.9 L1991.3 410.8 L2000.2 391.6 L2009.1 371.0 L2018.0 350.7" stroke="#2f66ff" stroke-width="1.05" fill="none" stroke-linejoin="round"/>
<path d="M10.0 647.0 L12.2 646.9 L21.1 646.2 L30.0 644.9 L38.8 635.7 L47.7 630.8 L56.6 624.9 L65.5 619.1 L74.3 614.6 L83.2 609.9 L92.1 601.6 L101.0 598.3 L109.8 597.5 L118.7 598.3 L127.6 600.5 L136.4 602.5 L145.3 602.5 L154.2 598.3 L163.1 595.0 L171.9 592.1 L176.4 592.5 L189.7 596.3 L198.6 598.3 L207.4 600.8 L216.3 611.6 L225.2 621.6 L234.1 629.1 L242.9 639.9 L251.8 656.6 L260.7 669.9 L269.6 676.5 L278.4 684.8 L287.3 692.3 L296.2 698.2 L305.1 706.5 L313.9 717.3 L322.8 720.6 L331.7 721.0 L340.6 721.0 L349.4 720.8 L358.3 720.2 L367.2 719.9 L376.1 721.9 L384.9 724.9 L393.8 729.0 L402.7 727.9 L411.6 726.9 L420.4 724.5 L429.3 723.2 L438.2 721.9 L447.1 721.2 L455.9 721.0 L464.8 720.7 L473.7 719.9 L482.6 718.5 L491.4 716.5 L500.3 716.0 L509.2 715.5 L518.1 714.5 L527.0 713.5 L535.8 712.5 L544.7 711.0 L553.6 709.2 L562.5 707.5 L571.3 706.2 L580.2 704.9 L589.1 705.7 L598.0 706.6 L606.8 706.9 L615.7 702.9 L624.6 698.2 L633.5 695.7 L642.3 693.6 L651.2 691.9 L660.1 688.6 L669.0 686.9 L677.8 686.1 L686.7 682.7 L691.1 682.7 L695.6 682.7 L704.5 682.7 L713.3 664.8 L722.2 648.2 L731.1 634.9 L740.0 623.2 L748.8 612.9 L757.7 605.8 L766.6 599.1 L775.5 594.1 L784.3 585.8 L793.2 580.8 L802.1 576.6 L811.0 582.5 L819.8 585.8 L828.7 596.6 L837.6 597.8 L846.5 594.6 L855.3 588.3 L864.2 582.5 L873.1 578.3 L882.0 575.8 L890.8 576.6 L899.7 579.6 L908.6 576.3 L917.5 570.8 L926.3 565.3 L935.2 561.7 L944.1 558.7 L953.0 556.7 L961.8 555.7 L970.7 555.3 L979.6 548.1 L988.5 538.1 L997.3 526.5 L1006.2 506.5 L1015.1 468.2 L1024.0 446.6 L1032.8 430.8 L1041.7 416.6 L1050.6 406.6 L1059.5 402.5 L1068.3 399.6 L1077.2 399.1 L1086.1 401.3 L1095.0 408.0 L1103.8 410.8 L1112.7 404.1 L1121.6 397.3 L1130.5 389.1 L1139.3 374.1 L1148.2 367.5 L1157.1 361.6 L1166.0 358.3 L1174.8 356.3 L1183.7 356.1 L1192.6 359.1 L1201.5 363.3 L1210.3 367.0 L1219.2 364.1 L1228.1 360.0 L1237.0 359.6 L1245.8 360.8 L1254.7 364.1 L1263.6 374.9 L1272.5 384.1 L1281.3 395.8 L1290.2 404.9 L1299.1 416.2 L1308.0 432.8 L1316.8 441.6 L1325.7 452.3 L1334.6 461.5 L1343.5 460.7 L1352.3 459.5 L1361.2 459.0 L1370.1 458.7 L1379.0 458.2 L1387.8 457.7 L1396.7 457.3 L1405.6 457.3 L1414.5 457.0 L1423.3 457.0 L1432.2 455.8 L1441.1 454.9 L1450.0 451.3 L1458.8 451.3 L1467.7 454.6 L1476.6 457.4 L1485.5 462.4 L1494.3 467.4 L1503.2 469.9 L1512.1 471.2 L1521.0 472.9 L1529.8 475.7 L1538.7 479.9 L1547.6 484.9 L1556.5 488.2 L1565.3 491.5 L1574.2 489.5 L1583.1 489.9 L1592.0 493.5 L1600.8 494.9 L1609.7 499.9 L1618.6 509.0 L1627.5 514.8 L1636.3 519.0 L1645.2 520.7 L1654.1 521.2 L1663.0 518.2 L1671.8 508.2 L1680.7 499.5 L1689.6 490.7 L1698.5 481.9 L1707.3 475.7 L1716.2 470.7 L1725.1 459.9 L1734.0 439.9 L1742.8 425.0 L1751.7 417.5 L1760.6 414.8 L1769.5 414.6 L1778.3 414.9 L1787.2 415.3 L1796.1 411.9 L1805.0 412.4 L1813.8 411.9 L1822.7 409.9 L1831.6 415.8 L1840.5 421.3 L1849.3 422.4 L1858.2 425.8 L1867.1 429.1 L1876.0 429.4 L1884.8 428.6 L1893.7 424.9 L1902.6 417.4 L1911.5 405.8 L1920.3 395.0 L1929.2 390.8 L1938.1 388.3 L1947.0 386.6 L1955.8 386.1 L1964.7 385.8 L1973.6 385.3 L1982.5 382.0 L1991.3 358.0 L2000.2 284.5 L2009.1 193.6 L2018.0 142.5" stroke="#f23645" stroke-width="1.0" fill="none" stroke-linejoin="round"/>
<path d="M10.0 678.4 L12.2 678.5 L21.1 679.5 L30.0 679.9 L38.8 681.9 L47.7 684.0 L56.6 686.0 L65.5 686.5 L74.3 686.5 L83.2 686.8 L92.1 688.2 L101.0 686.5 L109.8 685.2 L118.7 684.0 L127.6 676.5 L136.4 671.9 L145.3 672.4 L154.2 682.4 L163.1 693.2 L171.9 703.7 L180.8 711.5 L189.7 719.8 L198.6 730.6 L207.4 744.8 L216.3 751.4 L225.2 757.3 L234.1 762.7 L242.9 764.7 L251.8 760.6 L260.7 756.4 L269.6 755.6 L278.4 755.1 L287.3 754.8 L296.2 754.8 L305.1 752.3 L313.9 747.8 L322.8 746.4 L331.7 746.1 L340.6 745.1 L349.4 744.5 L358.3 744.0 L367.2 745.7 L376.1 747.3 L384.9 747.3 L393.8 744.5 L402.7 744.8 L411.6 745.7 L420.4 746.5 L429.3 746.8 L438.2 746.5 L447.1 746.0 L455.9 745.7 L464.8 745.7 L473.7 745.7 L482.6 745.8 L491.4 744.5 L500.3 741.5 L509.2 739.0 L518.1 737.3 L527.0 736.0 L535.8 734.0 L544.7 734.2 L553.6 734.2 L562.5 733.2 L571.3 731.5 L580.2 730.7 L589.1 727.9 L598.0 726.2 L606.8 725.2 L615.7 727.4 L624.6 728.5 L633.5 728.2 L642.3 727.9 L651.2 727.4 L660.1 726.9 L669.0 725.7 L677.8 725.4 L686.7 733.2 L691.1 733.4 L695.6 733.7 L704.5 733.4 L713.3 739.7 L722.2 745.6 L731.1 747.7 L740.0 749.4 L748.8 750.6 L757.7 748.9 L766.6 746.4 L775.5 742.2 L784.3 739.7 L793.2 733.9 L802.1 726.4 L811.0 704.0 L819.8 683.2 L828.7 656.5 L837.6 649.4 L846.5 647.9 L855.3 647.4 L864.2 646.9 L873.1 645.2 L882.0 642.0 L890.8 636.2 L899.7 631.1 L908.6 629.9 L917.5 627.4 L926.3 625.2 L935.2 623.2 L944.1 621.9 L953.0 621.1 L961.8 616.2 L970.7 612.4 L979.6 614.1 L988.5 618.2 L997.3 622.4 L1006.2 628.2 L1015.1 639.4 L1024.0 634.1 L1032.8 631.9 L1041.7 629.1 L1086.1 569.7 L1095.0 548.1 L1103.8 529.8 L1112.7 514.8 L1121.6 503.2 L1130.5 494.5 L1139.3 500.2 L1148.2 499.0 L1157.1 497.3 L1166.0 494.5 L1174.8 491.2 L1183.7 480.7 L1192.6 473.2 L1201.5 464.9 L1210.3 457.1 L1219.2 461.6 L1228.1 470.7 L1237.0 481.5 L1245.8 490.7 L1254.7 498.5 L1263.6 500.2 L1272.5 504.0 L1281.3 505.2 L1290.2 506.9 L1299.1 505.6 L1308.0 496.1 L1316.8 492.1 L1325.7 486.5 L1334.6 480.6 L1343.5 481.0 L1352.3 481.1 L1361.2 481.1 L1370.1 481.1 L1379.0 481.8 L1387.8 485.6 L1396.7 486.1 L1405.6 486.5 L1414.5 486.5 L1423.3 487.3 L1432.2 494.0 L1441.1 499.5 L1450.0 509.0 L1458.8 514.5 L1467.7 516.5 L1476.6 520.2 L1485.5 521.5 L1494.3 521.0 L1503.2 522.8 L1512.1 527.3 L1521.0 531.8 L1529.8 535.7 L1538.7 538.5 L1547.6 541.5 L1556.5 544.8 L1565.3 547.3 L1574.2 554.8 L1583.1 560.6 L1592.0 563.9 L1600.8 568.9 L1609.7 568.9 L1618.6 564.8 L1627.5 561.8 L1636.3 560.3 L1645.2 559.8 L1654.1 559.8 L1663.0 562.3 L1671.8 566.4 L1680.7 570.6 L1689.6 572.8 L1698.5 571.4 L1707.3 567.8 L1716.2 563.9 L1725.1 560.6 L1734.0 563.9 L1742.8 563.9 L1751.7 557.3 L1760.6 549.8 L1769.5 538.9 L1778.3 526.5 L1787.2 517.3 L1796.1 509.8 L1805.0 501.2 L1813.8 493.2 L1822.7 486.5 L1831.6 476.5 L1840.5 467.4 L1849.3 465.4 L1858.2 465.2 L1867.1 464.5 L1876.0 464.4 L1884.8 463.5 L1893.7 462.4 L1902.6 466.2 L1911.5 470.7 L1920.3 476.2 L1929.2 475.2 L1938.1 474.9 L1947.0 474.5 L1955.8 469.9 L1964.7 464.0 L1973.6 458.5 L1982.5 453.7 L1991.3 457.4 L2000.2 501.5 L2009.1 543.9 L2018.0 559.1" stroke="#f23645" stroke-width="1.0" fill="none" stroke-linejoin="round"/>
</g>
<path d="M10 133.5H2112" stroke="#f23645" stroke-width="1" stroke-dasharray="1 2" fill="none"/>
<path d="M10 390.5H2112" stroke="#ffffff" stroke-width="1" stroke-dasharray="1 2" fill="none"/>
<g clip-path="url(#pr)">
<path d="M4.65 963.5H2112" stroke="#ff5252" stroke-width="1" stroke-dasharray="5.1 5.85" fill="none"/>
<path d="M4.65 1142.5H2112" stroke="#8fce93" stroke-opacity="0.9" stroke-width="1" stroke-dasharray="5.1 5.85" fill="none"/>
<path d="M10.0 1023.7 L12.2 1024.1 L21.1 1026.9 L30.0 1026.9 L38.8 1023.6 L47.7 1021.9 L56.6 1019.9 L65.5 1017.1 L74.3 1014.6 L83.2 1012.4 L92.1 1009.4 L101.0 1007.9 L109.8 1011.1 L118.7 1013.6 L127.6 1010.8 L136.4 1010.8 L145.3 1012.9 L154.2 1019.9 L163.1 1028.2 L171.9 1039.0 L180.8 1049.4 L189.7 1060.7 L198.6 1072.8 L207.4 1085.7 L216.3 1098.0 L225.2 1110.6 L234.1 1119.2 L242.9 1126.1 L251.8 1130.7 L260.7 1133.6 L269.6 1134.1 L278.4 1135.9 L287.3 1137.2 L296.2 1137.6 L305.1 1138.4 L313.9 1138.9 L322.8 1137.6 L331.7 1134.1 L340.6 1130.3 L349.4 1126.5 L358.3 1123.0 L367.2 1122.7 L376.1 1123.5 L384.9 1123.5 L393.8 1122.4 L402.7 1119.0 L411.6 1115.6 L420.4 1110.6 L429.3 1105.1 L438.2 1100.6 L447.1 1096.5 L455.9 1092.8 L464.8 1089.0 L473.7 1085.7 L482.6 1081.2 L491.4 1074.0 L500.3 1066.5 L509.2 1060.7 L518.1 1055.7 L527.0 1051.9 L535.8 1047.9 L544.7 1044.9 L553.6 1041.6 L562.5 1036.6 L571.3 1031.2 L580.2 1026.2 L589.1 1025.7 L598.0 1026.6 L606.8 1027.4 L615.7 1024.1 L624.6 1021.3 L633.5 1019.9 L642.3 1017.4 L651.2 1015.3 L660.1 1011.6 L669.0 1011.3 L677.8 1012.9 L686.7 1019.1 L695.6 1024.1 L704.5 1027.8 L713.3 1023.5 L722.2 1015.7 L731.1 1007.3 L740.0 1004.0 L748.8 1001.2 L757.7 998.5 L766.6 996.2 L775.5 994.0 L784.3 991.9 L793.2 989.9 L802.1 986.0 L811.0 976.2 L819.8 968.2 L828.7 961.9 L837.6 961.2 L846.5 961.9 L855.3 961.9 L864.2 961.9 L873.1 962.4 L882.0 962.4 L890.8 966.6 L899.7 970.2 L908.6 972.9 L917.5 973.2 L926.3 973.2 L935.2 975.2 L944.1 977.9 L953.0 979.4 L961.8 980.2 L970.7 981.2 L979.6 981.9 L988.5 981.5 L997.3 979.5 L1006.2 977.4 L1015.1 969.0 L1024.0 961.9 L1032.8 956.2 L1041.7 951.6 L1050.6 948.2 L1059.5 947.1 L1068.3 945.3 L1077.2 943.6 L1086.1 941.9 L1095.0 939.4 L1103.8 937.4 L1112.7 934.9 L1121.6 934.1 L1130.5 934.1 L1139.3 935.3 L1148.2 937.1 L1157.1 938.6 L1166.0 942.4 L1174.8 946.3 L1183.7 947.4 L1192.6 951.6 L1201.5 955.7 L1210.3 961.6 L1219.2 969.9 L1228.1 980.7 L1237.0 991.5 L1245.8 1003.2 L1254.7 1014.0 L1263.6 1025.7 L1272.5 1035.6 L1281.3 1044.8 L1290.2 1052.6 L1299.1 1058.9 L1308.0 1063.9 L1316.8 1068.1 L1325.7 1070.6 L1334.6 1071.8 L1343.5 1070.6 L1352.3 1069.3 L1361.2 1067.8 L1370.1 1066.9 L1379.0 1067.8 L1387.8 1069.3 L1396.7 1069.6 L1405.6 1069.9 L1414.5 1069.9 L1423.3 1070.7 L1432.2 1073.7 L1441.1 1077.7 L1450.0 1083.2 L1458.8 1089.3 L1467.7 1093.7 L1476.6 1098.1 L1485.5 1101.5 L1494.3 1102.3 L1503.2 1102.8 L1512.1 1104.1 L1521.0 1106.5 L1529.8 1109.0 L1538.7 1111.5 L1547.6 1115.1 L1556.5 1116.1 L1565.3 1116.5 L1574.2 1116.5 L1583.1 1117.8 L1592.0 1120.1 L1600.8 1121.5 L1609.7 1122.3 L1618.6 1123.4 L1627.5 1122.3 L1636.3 1119.5 L1645.2 1116.1 L1654.1 1112.3 L1663.0 1106.5 L1671.8 1098.5 L1680.7 1089.0 L1689.6 1079.5 L1698.5 1068.2 L1707.3 1056.5 L1716.2 1046.9 L1725.1 1033.2 L1734.0 1020.3 L1742.8 1008.1 L1751.7 999.8 L1760.6 993.1 L1769.5 987.3 L1778.3 982.3 L1787.2 978.5 L1796.1 976.2 L1805.0 975.7 L1813.8 974.8 L1822.7 974.5 L1831.6 977.3 L1840.5 980.2 L1849.3 985.7 L1858.2 993.1 L1867.1 999.0 L1876.0 1002.8 L1884.8 1004.5 L1893.7 1004.8 L1902.6 1003.5 L1911.5 1001.1 L1920.3 999.5 L1929.2 999.8 L1938.1 1000.6 L1947.0 1001.5 L1955.8 999.8 L1964.7 998.1 L1973.6 996.5 L1982.5 992.3 L1991.3 985.7 L2000.2 974.8 L2009.1 964.9 L2018.0 957.9" stroke="#787b86" stroke-width="1.1" fill="none" stroke-linejoin="round"/>
<path d="M10.0 1000.1 L12.2 999.9 L21.1 998.3 L30.0 999.1 L38.8 994.1 L47.7 990.8 L56.6 987.0 L65.5 982.0 L74.3 979.1 L83.2 975.0 L92.1 970.0 L101.0 968.3 L109.8 970.3 L118.7 972.0 L127.6 972.5 L136.4 972.1 L145.3 970.8 L154.2 970.5 L163.1 974.6 L171.9 980.8 L180.8 989.1 L189.7 999.1 L198.6 1010.8 L207.4 1025.7 L216.3 1046.5 L225.2 1066.5 L234.1 1078.2 L242.9 1091.5 L251.8 1103.8 L260.7 1111.2 L269.6 1112.9 L278.4 1116.1 L287.3 1117.5 L296.2 1118.1 L305.1 1119.6 L313.9 1120.4 L322.8 1118.7 L331.7 1115.8 L340.6 1113.5 L349.4 1112.9 L358.3 1111.2 L367.2 1111.8 L376.1 1113.3 L384.9 1113.5 L393.8 1111.8 L402.7 1102.3 L411.6 1097.3 L420.4 1088.2 L429.3 1080.2 L438.2 1074.5 L447.1 1070.7 L455.9 1066.5 L464.8 1062.9 L473.7 1059.0 L482.6 1052.4 L491.4 1046.2 L500.3 1041.9 L509.2 1038.6 L518.1 1035.7 L527.0 1032.4 L535.8 1029.6 L544.7 1024.9 L553.6 1019.9 L562.5 1014.1 L571.3 1009.6 L580.2 1004.6 L589.1 1006.6 L598.0 1005.4 L606.8 1004.6 L615.7 999.1 L624.6 993.3 L633.5 992.0 L642.3 989.6 L651.2 987.5 L660.1 983.0 L669.0 982.5 L677.8 983.3 L686.7 982.5 L695.6 986.3 L704.5 989.9 L713.3 982.4 L722.2 974.0 L731.1 965.7 L740.0 961.2 L748.8 957.4 L757.7 953.2 L766.6 949.9 L775.5 946.9 L784.3 944.1 L793.2 941.6 L802.1 938.3 L811.0 942.9 L819.8 943.7 L828.7 951.2 L837.6 951.6 L846.5 952.1 L855.3 952.1 L864.2 951.6 L873.1 952.9 L882.0 952.4 L890.8 949.6 L899.7 946.6 L908.6 949.9 L917.5 950.2 L926.3 950.2 L935.2 951.6 L944.1 955.2 L953.0 957.9 L961.8 958.6 L970.7 960.2 L979.6 961.6 L988.5 960.7 L997.3 956.2 L1006.2 949.1 L1015.1 936.6 L1024.0 929.9 L1032.8 923.3 L1041.7 918.3 L1050.6 915.8 L1059.5 915.3 L1068.3 915.3 L1077.2 915.3 L1086.1 915.3 L1095.0 916.3 L1103.8 915.8 L1112.7 912.5 L1121.6 911.1 L1130.5 910.8 L1139.3 913.3 L1148.2 915.8 L1157.1 917.5 L1166.0 920.8 L1174.8 923.8 L1183.7 923.6 L1192.6 920.8 L1201.5 919.6 L1210.3 919.5 L1219.2 919.1 L1228.1 923.3 L1237.0 931.6 L1245.8 943.3 L1254.7 957.4 L1263.6 974.1 L1272.5 988.5 L1281.3 1004.8 L1290.2 1018.2 L1299.1 1031.5 L1308.0 1045.1 L1316.8 1052.3 L1325.7 1058.1 L1334.6 1061.4 L1343.5 1059.4 L1352.3 1056.9 L1361.2 1054.8 L1370.1 1053.6 L1379.0 1053.1 L1387.8 1052.8 L1396.7 1052.7 L1405.6 1052.9 L1414.5 1052.9 L1423.3 1053.5 L1432.2 1054.5 L1441.1 1056.5 L1450.0 1057.0 L1458.8 1061.2 L1467.7 1066.5 L1476.6 1073.2 L1485.5 1079.5 L1494.3 1082.0 L1503.2 1082.8 L1512.1 1083.5 L1521.0 1086.8 L1529.8 1089.8 L1538.7 1092.3 L1547.6 1096.8 L1556.5 1097.5 L1565.3 1097.8 L1574.2 1098.1 L1583.1 1098.5 L1592.0 1101.1 L1600.8 1101.8 L1609.7 1102.8 L1618.6 1107.3 L1627.5 1103.1 L1636.3 1096.8 L1645.2 1091.5 L1654.1 1086.5 L1663.0 1075.7 L1671.8 1061.5 L1680.7 1045.7 L1689.6 1031.6 L1698.5 1016.6 L1707.3 1004.6 L1716.2 995.3 L1725.1 984.1 L1734.0 967.4 L1742.8 955.7 L1751.7 951.5 L1760.6 949.5 L1769.5 950.4 L1778.3 952.4 L1787.2 952.9 L1796.1 951.5 L1805.0 951.2 L1813.8 951.0 L1822.7 950.7 L1831.6 949.5 L1840.5 949.0 L1849.3 954.9 L1858.2 965.7 L1867.1 977.8 L1876.0 981.2 L1884.8 983.2 L1893.7 983.2 L1902.6 981.8 L1911.5 976.5 L1920.3 971.5 L1929.2 971.5 L1938.1 973.2 L1947.0 975.2 L1955.8 974.5 L1964.7 974.0 L1973.6 973.2 L1982.5 970.7 L1991.3 960.2 L2000.2 941.6 L2009.1 923.2 L2018.0 909.6" stroke="#ff5252" stroke-width="1.1" fill="none" stroke-linejoin="round"/>
<path d="M10.0 1047.4 L12.2 1048.2 L21.1 1054.5 L30.0 1054.9 L38.8 1053.5 L47.7 1053.2 L56.6 1052.7 L65.5 1051.5 L74.3 1049.9 L83.2 1049.4 L92.1 1048.7 L101.0 1047.4 L109.8 1051.9 L118.7 1055.4 L127.6 1049.4 L136.4 1049.4 L145.3 1054.5 L154.2 1069.0 L163.1 1082.3 L171.9 1096.5 L180.8 1107.2 L189.7 1122.1 L198.6 1134.1 L207.4 1141.6 L216.3 1147.3 L225.2 1153.6 L234.1 1158.4 L242.9 1161.6 L251.8 1157.9 L260.7 1156.1 L269.6 1155.9 L278.4 1156.3 L287.3 1156.5 L296.2 1156.8 L305.1 1157.1 L313.9 1157.1 L322.8 1156.3 L331.7 1152.5 L340.6 1147.9 L349.4 1141.0 L358.3 1134.1 L367.2 1131.5 L376.1 1133.0 L384.9 1133.3 L393.8 1134.1 L402.7 1135.6 L411.6 1133.4 L420.4 1133.1 L429.3 1130.6 L438.2 1126.4 L447.1 1122.8 L455.9 1119.8 L464.8 1116.1 L473.7 1112.8 L482.6 1109.8 L491.4 1101.5 L500.3 1090.7 L509.2 1082.3 L518.1 1075.2 L527.0 1071.9 L535.8 1065.7 L544.7 1064.0 L553.6 1062.4 L562.5 1059.9 L571.3 1053.2 L580.2 1048.2 L589.1 1044.1 L598.0 1047.4 L606.8 1049.9 L615.7 1049.4 L624.6 1048.5 L633.5 1046.9 L642.3 1044.9 L651.2 1042.9 L660.1 1039.9 L669.0 1039.6 L677.8 1041.6 L686.7 1059.0 L695.6 1062.4 L704.5 1066.4 L713.3 1063.1 L722.2 1055.6 L731.1 1047.8 L740.0 1046.9 L748.8 1046.1 L757.7 1044.4 L766.6 1043.1 L775.5 1041.5 L784.3 1040.6 L793.2 1038.5 L802.1 1033.5 L811.0 1008.2 L819.8 989.9 L828.7 970.7 L837.6 971.5 L846.5 972.4 L855.3 972.4 L864.2 972.4 L873.1 972.4 L882.0 972.4 L890.8 983.2 L899.7 993.5 L908.6 996.2 L917.5 996.0 L926.3 996.2 L935.2 997.8 L944.1 999.0 L953.0 1000.2 L961.8 1001.2 L970.7 1002.3 L979.6 1002.8 L988.5 1003.2 L997.3 1004.0 L1006.2 1004.8 L1015.1 1002.3 L1024.0 991.2 L1032.8 986.5 L1041.7 983.5 L1050.6 980.7 L1059.5 979.4 L1068.3 976.2 L1077.2 973.2 L1086.1 969.9 L1095.0 963.6 L1103.8 959.9 L1112.7 957.7 L1121.6 956.9 L1130.5 956.6 L1139.3 956.9 L1148.2 958.2 L1157.1 959.9 L1166.0 964.9 L1174.8 969.1 L1183.7 971.6 L1192.6 982.4 L1201.5 992.4 L1210.3 1004.0 L1219.2 1020.7 L1228.1 1036.5 L1237.0 1049.8 L1245.8 1061.4 L1254.7 1070.6 L1263.6 1076.4 L1272.5 1082.7 L1281.3 1084.7 L1290.2 1091.4 L1299.1 1091.1 L1308.0 1087.2 L1316.8 1085.6 L1325.7 1083.4 L1334.6 1082.2 L1343.5 1081.4 L1352.3 1081.1 L1361.2 1080.1 L1370.1 1079.2 L1379.0 1080.1 L1387.8 1084.7 L1396.7 1086.0 L1405.6 1086.5 L1414.5 1086.8 L1423.3 1087.8 L1432.2 1094.0 L1441.1 1099.8 L1450.0 1110.6 L1458.8 1117.8 L1467.7 1120.6 L1476.6 1123.4 L1485.5 1123.4 L1494.3 1122.8 L1503.2 1122.8 L1512.1 1123.9 L1521.0 1126.9 L1529.8 1128.4 L1538.7 1130.9 L1547.6 1133.1 L1556.5 1134.3 L1565.3 1134.4 L1574.2 1133.9 L1583.1 1136.4 L1592.0 1139.4 L1600.8 1141.4 L1609.7 1141.8 L1618.6 1140.1 L1627.5 1141.4 L1636.3 1142.8 L1645.2 1141.4 L1654.1 1139.8 L1663.0 1139.8 L1671.8 1137.8 L1680.7 1135.6 L1689.6 1131.4 L1698.5 1123.9 L1707.3 1113.1 L1716.2 1099.0 L1725.1 1084.8 L1734.0 1073.2 L1751.7 1049.7 L1760.6 1038.9 L1769.5 1025.6 L1778.3 1012.8 L1787.2 1005.6 L1796.1 1001.1 L1805.0 999.5 L1813.8 998.5 L1822.7 998.1 L1831.6 1006.5 L1840.5 1013.1 L1849.3 1018.4 L1858.2 1020.9 L1867.1 1021.9 L1876.0 1023.9 L1884.8 1025.6 L1893.7 1025.6 L1902.6 1026.1 L1911.5 1026.9 L1920.3 1027.3 L1929.2 1027.6 L1938.1 1028.4 L1947.0 1029.3 L1955.8 1025.6 L1964.7 1020.6 L1973.6 1017.3 L1982.5 1014.0 L1991.3 1011.5 L2000.2 1011.1 L2009.1 1009.0 L2018.0 1006.1" stroke="#ff5252" stroke-width="1.1" fill="none" stroke-linejoin="round"/>
<path d="M10.0 1067.3 L12.2 1068.5 L21.1 1085.2 L30.0 1021.6 L38.8 987.9 L47.7 989.9 L56.6 980.0 L65.5 976.3 L74.3 984.1 L83.2 975.8 L92.1 956.3 L101.0 998.3 L109.8 1044.5 L118.7 1049.0 L127.6 1039.0 L136.4 1071.2 L145.3 1107.3 L154.2 1104.7 L163.1 1114.3 L171.9 1128.1 L180.8 1117.3 L189.7 1122.7 L198.6 1143.9 L207.4 1163.4 L216.3 1162.0 L225.2 1163.0 L234.1 1163.0 L242.9 1149.0 L251.8 1113.5 L260.7 1118.1 L269.6 1110.6 L278.4 1129.5 L287.3 1133.6 L296.2 1128.7 L305.1 1133.9 L313.9 1129.5 L322.8 1125.3 L331.7 1117.5 L340.6 1113.8 L349.4 1113.5 L358.3 1107.0 L367.2 1130.7 L376.1 1137.9 L384.9 1115.2 L393.8 1100.9 L402.7 1073.5 L411.6 1089.5 L420.4 1058.2 L429.3 1056.9 L438.2 1065.2 L447.1 1078.2 L455.9 1059.0 L464.8 1069.9 L473.7 1063.5 L482.6 1045.7 L491.4 1027.9 L500.3 1025.7 L509.2 1031.6 L518.1 1033.6 L527.0 1027.4 L535.8 1032.9 L544.7 1016.6 L553.6 1009.9 L562.5 999.1 L571.3 999.1 L580.2 995.8 L589.1 1042.4 L598.0 1075.7 L606.8 1065.2 L615.7 990.0 L624.6 982.1 L633.5 1007.9 L642.3 993.3 L651.2 1002.9 L660.1 980.3 L669.0 1008.3 L677.8 1028.2 L686.7 1112.3 L695.6 1051.0 L704.5 1050.9 L713.3 974.9 L722.2 957.4 L731.1 956.2 L740.0 954.1 L748.8 952.4 L757.7 964.9 L766.6 962.9 L775.5 971.5 L784.3 948.2 L793.2 976.9 L802.1 969.0 L811.0 961.2 L819.8 947.9 L828.7 952.4 L837.6 980.2 L846.5 972.4 L855.3 956.6 L864.2 952.4 L873.1 961.9 L882.0 959.1 L890.8 1009.8 L899.7 1032.8 L908.6 987.4 L917.5 975.2 L926.3 970.7 L935.2 979.5 L944.1 985.2 L953.0 984.5 L961.8 983.5 L970.7 996.5 L979.6 960.7 L988.5 948.2 L997.3 934.9 L1006.2 920.8 L1015.1 895.0 L1024.0 920.4 L1032.8 919.1 L1041.7 917.9 L1050.6 917.5 L1059.5 967.4 L1068.3 961.6 L1077.2 965.2 L1086.1 961.6 L1095.0 955.2 L1103.8 937.4 L1112.7 916.6 L1121.6 917.5 L1130.5 916.6 L1139.3 906.6 L1148.2 946.1 L1157.1 943.6 L1166.0 972.9 L1174.8 979.0 L1183.7 971.2 L1192.6 1022.3 L1201.5 1025.7 L1210.3 1036.5 L1219.2 1070.6 L1228.1 1072.8 L1237.0 1075.1 L1245.8 1076.4 L1254.7 1081.1 L1263.6 1070.1 L1272.5 1082.2 L1281.3 1083.9 L1290.2 1091.4 L1299.1 1066.4 L1308.0 1062.3 L1316.8 1057.8 L1325.7 1059.4 L1334.6 1055.6 L1343.5 1051.5 L1352.3 1053.9 L1361.2 1051.8 L1370.1 1061.4 L1379.0 1087.2 L1387.8 1103.1 L1396.7 1081.5 L1405.6 1088.5 L1414.5 1092.8 L1423.3 1078.2 L1432.2 1111.1 L1441.1 1114.8 L1450.0 1149.4 L1458.8 1128.9 L1467.7 1097.8 L1476.6 1123.9 L1485.5 1099.8 L1494.3 1074.8 L1503.2 1099.0 L1512.1 1107.3 L1521.0 1126.4 L1529.8 1128.1 L1538.7 1117.8 L1547.6 1136.4 L1556.5 1116.1 L1565.3 1122.3 L1574.2 1143.9 L1583.1 1142.8 L1592.0 1139.4 L1600.8 1147.7 L1609.7 1106.5 L1618.6 1093.2 L1627.5 1079.8 L1636.3 1069.9 L1645.2 1080.7 L1654.1 1078.5 L1663.0 1035.7 L1671.8 1011.3 L1680.7 1006.3 L1689.6 994.1 L1698.5 981.4 L1707.3 993.9 L1716.2 991.7 L1725.1 949.9 L1734.0 924.9 L1742.8 922.9 L1751.7 979.0 L1760.6 983.5 L1769.5 996.1 L1778.3 981.8 L1787.2 989.0 L1796.1 971.0 L1805.0 996.1 L1813.8 985.7 L1822.7 975.2 L1831.6 1034.8 L1840.5 1033.9 L1849.3 1023.1 L1858.2 1022.8 L1867.1 1021.9 L1876.0 1021.9 L1884.8 1011.8 L1893.7 989.5 L1902.6 971.5 L1911.5 954.5 L1920.3 945.7 L1929.2 997.3 L1938.1 999.5 L1947.0 1001.8 L1955.8 1002.3 L1964.7 1001.8 L1973.6 1000.6 L1982.5 974.8 L1991.3 928.6 L2000.2 880.0 L2009.1 867.0 L2018.0 879.1" stroke="#ffffff" stroke-width="2" fill="none" stroke-linejoin="miter"/>
</g>
<text x="2120.6" y="91.3" font-size="13" fill="#b2b5be" >72.500</text>
<text x="2120.6" y="134.0" font-size="13" fill="#b2b5be" >72.000</text>
<text x="2120.6" y="176.6" font-size="13" fill="#b2b5be" >71.500</text>
<text x="2120.6" y="219.3" font-size="13" fill="#b2b5be" >71.000</text>
<text x="2120.6" y="262.0" font-size="13" fill="#b2b5be" >70.500</text>
<text x="2120.6" y="304.6" font-size="13" fill="#b2b5be" >70.000</text>
<text x="2120.6" y="347.3" font-size="13" fill="#b2b5be" >69.500</text>
<text x="2120.6" y="390.0" font-size="13" fill="#b2b5be" >69.000</text>
<text x="2120.6" y="432.6" font-size="13" fill="#b2b5be" >68.500</text>
<text x="2120.6" y="475.3" font-size="13" fill="#b2b5be" >68.000</text>
<text x="2120.6" y="518.0" font-size="13" fill="#b2b5be" >67.500</text>
<text x="2120.6" y="560.6" font-size="13" fill="#b2b5be" >67.000</text>
<text x="2120.6" y="603.3" font-size="13" fill="#b2b5be" >66.500</text>
<text x="2120.6" y="646.0" font-size="13" fill="#b2b5be" >66.000</text>
<text x="2120.6" y="688.6" font-size="13" fill="#b2b5be" >65.500</text>
<text x="2120.6" y="731.3" font-size="13" fill="#b2b5be" >65.000</text>
<text x="2120.6" y="774.0" font-size="13" fill="#b2b5be" >64.500</text>
<text x="2120.6" y="816.6" font-size="13" fill="#b2b5be" >64.000</text>
<text x="2120.6" y="878.2" font-size="13" fill="#b2b5be" >90.000</text>
<text x="2120.6" y="922.9" font-size="13" fill="#b2b5be" >80.000</text>
<text x="2120.6" y="967.6" font-size="13" fill="#b2b5be" >70.000</text>
<text x="2120.6" y="1057.0" font-size="13" fill="#b2b5be" >50.000</text>
<text x="2120.6" y="1101.7" font-size="13" fill="#b2b5be" >40.000</text>
<text x="2120.6" y="1146.4" font-size="13" fill="#b2b5be" >30.000</text>
<text x="2120.6" y="1191.1" font-size="13" fill="#b2b5be" >20.000</text>
<path d="M2112 103H2165a2 2 0 0 1 2 2V149a2 2 0 0 1 -2 2H2112Z" fill="#f23645"/>
<text x="2120.6" y="116" font-size="13" fill="#ffffff" fill-opacity="1">71.964</text>
<text x="2120.6" y="129.9" font-size="13" fill="#ffffff" fill-opacity="0.8">01:14</text>
<text x="2120.6" y="147" font-size="13" fill="#ffffff" fill-opacity="1">71.851</text>
<path d="M2112 343H2165a2 2 0 0 1 2 2V358a2 2 0 0 1 -2 2H2112Z" fill="#2962ff"/>
<text x="2120.6" y="356" font-size="13" fill="#ffffff" fill-opacity="1">69.411</text>
<path d="M2112 382H2165a2 2 0 0 1 2 2V397.3a2 2 0 0 1 -2 2H2112Z" fill="#ffffff"/>
<text x="2120.6" y="395" font-size="13" fill="#131722" fill-opacity="1">68.954</text>
<path d="M2112 551H2165a2 2 0 0 1 2 2V566a2 2 0 0 1 -2 2H2112Z" fill="#f23645"/>
<text x="2120.6" y="564" font-size="13" fill="#ffffff" fill-opacity="1">66.971</text>
<path d="M2112 871H2165a2 2 0 0 1 2 2V886a2 2 0 0 1 -2 2H2112Z" fill="#ffffff"/>
<text x="2120.6" y="884" font-size="13" fill="#131722" fill-opacity="1">89.003</text>
<path d="M2112 901H2165a2 2 0 0 1 2 2V916a2 2 0 0 1 -2 2H2112Z" fill="#ff5252"/>
<text x="2120.6" y="914" font-size="13" fill="#ffffff" fill-opacity="1">82.111</text>
<path d="M2112 950H2165a2 2 0 0 1 2 2V965a2 2 0 0 1 -2 2H2112Z" fill="#787b86"/>
<text x="2120.6" y="963" font-size="13" fill="#ffffff" fill-opacity="1">71.254</text>
<path d="M2112 998H2165a2 2 0 0 1 2 2V1013a2 2 0 0 1 -2 2H2112Z" fill="#ff5252"/>
<text x="2120.6" y="1011" font-size="13" fill="#ffffff" fill-opacity="1">60.396</text>
<rect x="2114.5" y="30.5" width="53" height="27" rx="4" fill="#0f0f0f" stroke="#363a45" stroke-width="1"/>
<text x="2124.5" y="48.2" font-size="12.5" fill="#ffffff">USD</text>
<text x="83.2" y="1213" font-size="13.3" fill="#b2b5be" text-anchor="middle" font-weight="bold">11</text>
<text x="189.7" y="1213" font-size="13.3" fill="#b2b5be" text-anchor="middle" >03:00</text>
<text x="296.2" y="1213" font-size="13.3" fill="#b2b5be" text-anchor="middle" >07:00</text>
<text x="367.2" y="1213" font-size="13.3" fill="#b2b5be" text-anchor="middle" >09:00</text>
<text x="473.7" y="1213" font-size="13.3" fill="#b2b5be" text-anchor="middle" >12:00</text>
<text x="580.2" y="1213" font-size="13.3" fill="#b2b5be" text-anchor="middle" >15:00</text>
<text x="686.7" y="1213" font-size="13.3" fill="#b2b5be" text-anchor="middle" >18:00</text>
<text x="793.2" y="1213" font-size="13.3" fill="#b2b5be" text-anchor="middle" >21:00</text>
<text x="899.7" y="1213" font-size="13.3" fill="#b2b5be" text-anchor="middle" font-weight="bold">12</text>
<text x="1006.2" y="1213" font-size="13.3" fill="#b2b5be" text-anchor="middle" >03:00</text>
<text x="1112.7" y="1213" font-size="13.3" fill="#b2b5be" text-anchor="middle" >07:00</text>
<text x="1183.7" y="1213" font-size="13.3" fill="#b2b5be" text-anchor="middle" >09:00</text>
<text x="1290.2" y="1213" font-size="13.3" fill="#b2b5be" text-anchor="middle" >12:00</text>
<text x="1396.7" y="1213" font-size="13.3" fill="#b2b5be" text-anchor="middle" >15:00</text>
<text x="1503.2" y="1213" font-size="13.3" fill="#b2b5be" text-anchor="middle" >18:00</text>
<text x="1609.7" y="1213" font-size="13.3" fill="#b2b5be" text-anchor="middle" >21:00</text>
<text x="1716.2" y="1213" font-size="13.3" fill="#b2b5be" text-anchor="middle" font-weight="bold">13</text>
<text x="1822.7" y="1213" font-size="13.3" fill="#b2b5be" text-anchor="middle" >03:00</text>
<text x="1929.2" y="1213" font-size="13.3" fill="#b2b5be" text-anchor="middle" >07:00</text>
<text x="2000.2" y="1213" font-size="13.3" fill="#b2b5be" text-anchor="middle" >09:00</text>
<text x="18.5" y="46.8" font-size="13.0" fill="#d1d4dc"  stroke="#d1d4dc" stroke-width="0.2" textLength="233" lengthAdjust="spacingAndGlyphs">WTICOUSD · West Texas Oil · 15 · OANDA</text>
<text x="259.6" y="46.8" font-size="12.6" fill="#d1d4dc"  stroke="#d1d4dc" stroke-width="0.2" textLength="23" lengthAdjust="spacingAndGlyphs">始値</text>
<text x="282.6" y="46.8" font-size="13.0" fill="#f23645"  stroke="#f23645" stroke-width="0.2" textLength="38.5" lengthAdjust="spacingAndGlyphs">72.062</text>
<text x="329.5" y="46.8" font-size="12.6" fill="#d1d4dc"  stroke="#d1d4dc" stroke-width="0.2" textLength="23" lengthAdjust="spacingAndGlyphs">高値</text>
<text x="353" y="46.8" font-size="13.0" fill="#f23645"  stroke="#f23645" stroke-width="0.2" textLength="37.6" lengthAdjust="spacingAndGlyphs">72.154</text>
<text x="397.6" y="46.8" font-size="12.6" fill="#d1d4dc"  stroke="#d1d4dc" stroke-width="0.2" textLength="23" lengthAdjust="spacingAndGlyphs">安値</text>
<text x="421.7" y="46.8" font-size="13.0" fill="#f23645"  stroke="#f23645" stroke-width="0.2" textLength="37.6" lengthAdjust="spacingAndGlyphs">71.596</text>
<text x="466.3" y="46.8" font-size="12.6" fill="#d1d4dc"  stroke="#d1d4dc" stroke-width="0.2" textLength="23" lengthAdjust="spacingAndGlyphs">終値</text>
<text x="490.2" y="46.8" font-size="13.0" fill="#f23645"  stroke="#f23645" stroke-width="0.2" textLength="38" lengthAdjust="spacingAndGlyphs">71.964</text>
<text x="535.2" y="46.8" font-size="13.0" fill="#f23645"  stroke="#f23645" stroke-width="0.2" textLength="92.8" lengthAdjust="spacingAndGlyphs">−0.108 (−0.15%)</text>
<text x="635.5" y="46.8" font-size="12.6" fill="#d1d4dc"  stroke="#d1d4dc" stroke-width="0.2" textLength="35" lengthAdjust="spacingAndGlyphs">出来高</text>
<text x="671.4" y="46.8" font-size="13.0" fill="#f23645"  stroke="#f23645" stroke-width="0.2" textLength="34.2" lengthAdjust="spacingAndGlyphs">3.87 K</text>
<text x="712.7" y="46.8" font-size="13.0" fill="#1fa391"  stroke="#1fa391" stroke-width="0.2" textLength="94" lengthAdjust="spacingAndGlyphs">+3.010 (+4.37%)</text>
<text x="18.5" y="63.7" font-size="13.0" fill="#d1d4dc"  stroke="#d1d4dc" stroke-width="0.2" textLength="124" lengthAdjust="spacingAndGlyphs">BB (14, SMA, close, 2)</text>
<text x="150.6" y="63.7" font-size="13.0" fill="#2962ff"  stroke="#2962ff" stroke-width="0.2" textLength="36.1" lengthAdjust="spacingAndGlyphs">69.411</text>
<text x="194.2" y="63.7" font-size="13.0" fill="#f23645"  stroke="#f23645" stroke-width="0.2" textLength="34.8" lengthAdjust="spacingAndGlyphs">71.851</text>
<text x="236.5" y="63.7" font-size="13.0" fill="#f23645"  stroke="#f23645" stroke-width="0.2" textLength="37.5" lengthAdjust="spacingAndGlyphs">66.971</text>
<text x="18.5" y="851.2" font-size="13.0" fill="#d1d4dc"  stroke="#d1d4dc" stroke-width="0.2" textLength="273" lengthAdjust="spacingAndGlyphs">RSI with Bollinger Bands (14, close, 30, 70, 14, 1)</text>
<text x="299.5" y="851.2" font-size="13.0" fill="#ffffff"  stroke="#ffffff" stroke-width="0.2" textLength="39.8" lengthAdjust="spacingAndGlyphs">89.003</text>
<text x="346.8" y="851.2" font-size="13.0" fill="#ff5252"  stroke="#ff5252" stroke-width="0.2" textLength="34.5" lengthAdjust="spacingAndGlyphs">82.111</text>
<text x="388.3" y="851.2" font-size="13.0" fill="#787b86"  stroke="#787b86" stroke-width="0.2" textLength="36.7" lengthAdjust="spacingAndGlyphs">71.254</text>
<text x="432.5" y="851.2" font-size="13.0" fill="#ff5252"  stroke="#ff5252" stroke-width="0.2" textLength="40.5" lengthAdjust="spacingAndGlyphs">60.396</text>
<text x="10.6" y="19.8" font-size="12.4" fill="#000000" stroke="#000000" stroke-width="0.15" textLength="370.4" lengthAdjust="spacingAndGlyphs">uery518 が TradingView.com で 6月 13, 2025 09:43 UTC+9 に公開</text>
<g transform="translate(10.04,1231.89) scale(0.532,0.546)" fill="#000000"><path d="M14 22H7V11H0V4h14v18z"/><circle cx="20" cy="8" r="4"/><path d="M28 22h-8l7.5-18h8L28 22z"/></g>
<text x="33.6" y="1244.8" font-size="13.4" fill="#000000" stroke="#000000" stroke-width="0.2" textLength="73.7" lengthAdjust="spacingAndGlyphs">TradingView</text>
</svg>
</body></html>
